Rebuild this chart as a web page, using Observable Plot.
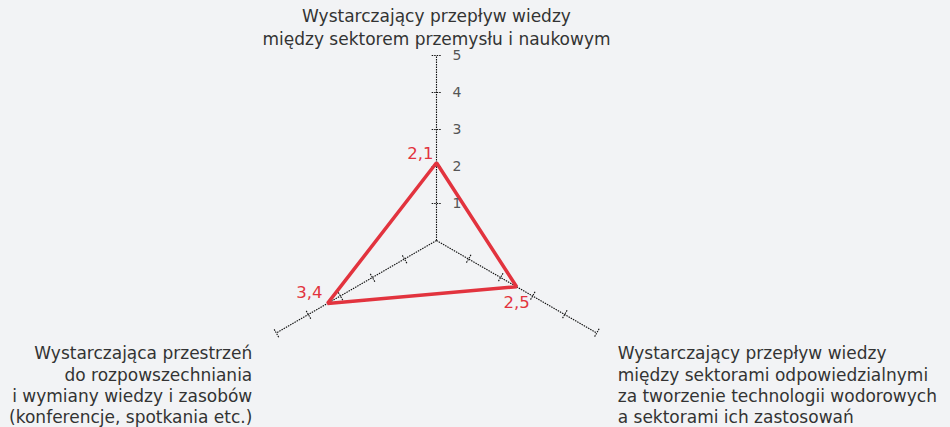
<!DOCTYPE html>
<html>
<head>
<meta charset="utf-8">
<script src="https://cdn.jsdelivr.net/npm/d3@7"></script>
<script src="https://cdn.jsdelivr.net/npm/@observablehq/plot@0.6"></script>
<style>
  html, body { margin: 0; padding: 0; background: #f2f3f5; }
  #chart svg { display: block; }
</style>
</head>
<body>
<div id="chart"></div>
<script>
// Data
const axisLabels = [
  "Wystarczający przepływ wiedzy\nmiędzy sektorem przemysłu i naukowym",
  "Wystarczający przepływ wiedzy\nmiędzy sektorami odpowiedzialnymi\nza tworzenie technologii wodorowych\na sektorami ich zastosowań",
  "Wystarczająca przestrzeń\ndo rozpowszechniania\ni wymiany wiedzy i zasobów\n(konferencje, spotkania etc.)"
];
const values = [2.1, 2.5, 3.4];
const valueLabels = ["2,1", "2,5", "3,4"];
const tickValues = [1, 2, 3, 4, 5];
const maxValue = 5;

const W = 950, H = 427;
const cx = 436, cy = 240, unit = 37;
const angles = [0, 120, 240].map(a => a * Math.PI / 180);
const px = (a, v) => v * Math.sin(a);
const py = (a, v) => v * Math.cos(a);

const axes = angles.map((a, i) => ({i, a, x1: 0, y1: 0, x2: px(a, maxValue), y2: py(a, maxValue), label: axisLabels[i]}));
const tl = 0.13;
const ticks = [];
angles.forEach((a, i) => tickValues.forEach(t => {
  const x = px(a, t), y = py(a, t);
  const nx = Math.cos(a), ny = -Math.sin(a);
  ticks.push({x1: x - nx * tl, y1: y - ny * tl, x2: x + nx * tl, y2: y + ny * tl});
}));
const poly = angles.map((a, i) => ({x: px(a, values[i]), y: py(a, values[i]), label: valueLabels[i], i}));
const tickText = tickValues.map(t => ({x: 0, y: t, t}));

const red = "#e2333e";
const font = "'DejaVu Sans', sans-serif";

const chart = Plot.plot({
  width: W, height: H,
  margin: 0,
  style: {background: "#f2f3f5", fontFamily: font},
  x: {domain: [-cx / unit, (W - cx) / unit], axis: null},
  y: {domain: [-(H - cy) / unit, cy / unit], axis: null},
  marks: [
    Plot.link(axes, {x1: "x1", y1: "y1", x2: "x2", y2: "y2", stroke: "#111", strokeWidth: 1.1, strokeDasharray: "1.5,1"}),
    Plot.link(ticks, {x1: "x1", y1: "y1", x2: "x2", y2: "y2", stroke: "#111", strokeWidth: 1.1, strokeDasharray: "1.5,1"}),
    Plot.line(poly, {x: "x", y: "y", curve: "linear-closed", stroke: red, strokeWidth: 3.5, strokeLinejoin: "miter"}),
    Plot.text(tickText, {x: "x", y: "y", text: d => String(d.t), dx: 16, textAnchor: "start", fill: "#555", fontSize: 14}),
    Plot.text(poly.filter(d => d.i === 0), {x: "x", y: "y", text: "label", dx: -3, dy: -9, textAnchor: "end", fill: red, fontSize: 16.5}),
    Plot.text(poly.filter(d => d.i === 1), {x: "x", y: "y", text: "label", dx: 0, dy: 16, textAnchor: "middle", fill: red, fontSize: 16.5}),
    Plot.text(poly.filter(d => d.i === 2), {x: "x", y: "y", text: "label", dx: -5, dy: -11, textAnchor: "end", fill: red, fontSize: 16.5}),
    Plot.text(axes.filter(d => d.i === 0), {x: "x2", y: "y2", text: "label", dy: -11, lineAnchor: "bottom", textAnchor: "middle", fill: "#333", fontSize: 17, lineHeight: 1.3}),
    Plot.text(axes.filter(d => d.i === 1), {x: "x2", y: "y2", text: "label", dx: 21, dy: 11, lineAnchor: "top", textAnchor: "start", fill: "#333", fontSize: 17, lineHeight: 1.26}),
    Plot.text(axes.filter(d => d.i === 2), {x: "x2", y: "y2", text: "label", dx: -24, dy: 11, lineAnchor: "top", textAnchor: "end", fill: "#333", fontSize: 17, lineHeight: 1.26})
  ]
});
document.getElementById("chart").appendChild(chart);
</script>
</body>
</html>
